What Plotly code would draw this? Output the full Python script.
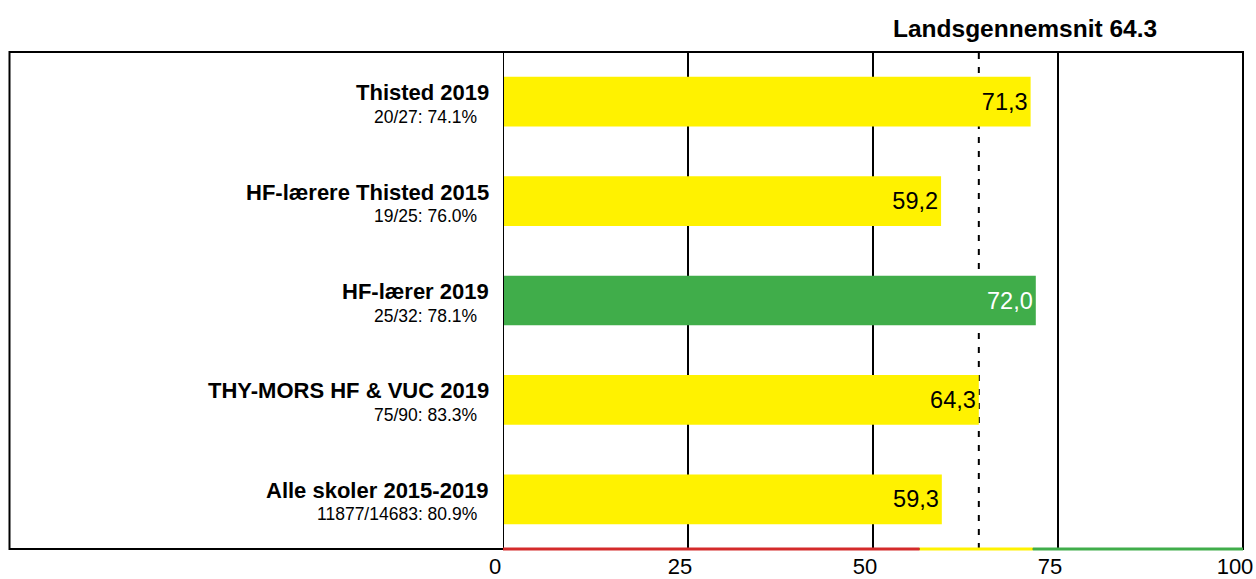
import plotly.graph_objects as go

# ---- data ----
categories = ["Thisted 2019", "HF-lærere Thisted 2015", "HF-lærer 2019",
              "THY-MORS HF & VUC 2019", "Alle skoler 2015-2019"]
subtitles = ["20/27: 74.1%", "19/25: 76.0%", "25/32: 78.1%",
             "75/90: 83.3%", "11877/14683: 80.9%"]
values = [71.3, 59.2, 72.0, 64.3, 59.3]
bar_colors = ["#fff200", "#fff200", "#40ad4a", "#fff200", "#fff200"]
text_colors = ["black", "black", "white", "black", "black"]
national_avg = 64.3
band_edges = [0, 56.3, 71.6, 100]
band_colors = ["#d42a2a", "#fff200", "#40ad4a"]
tick_vals = [0, 25, 50, 75, 100]

FONT = "Liberation Sans, Arial, sans-serif"

fig = go.Figure()
fig.add_trace(go.Bar(
    y=categories, x=values, orientation="h",
    marker=dict(color=bar_colors, line=dict(width=0)),
    width=0.5,
    text=[f"{v:.1f}".replace(".", ",") for v in values],
    textposition="inside", insidetextanchor="end",
    textfont=dict(family=FONT, size=23.5, color=text_colors),
    constraintext="none",
    hoverinfo="skip",
))

annotations = []
for cat, sub in zip(categories, subtitles):
    annotations.append(dict(x=0, xref="paper", y=cat, yref="y", text=f"<b>{cat}</b>",
                            xanchor="right", yanchor="middle", showarrow=False,
                            xshift=-12, yshift=9,
                            font=dict(family=FONT, size=22, color="black")))
    annotations.append(dict(x=0, xref="paper", y=cat, yref="y", text=sub,
                            xanchor="right", yanchor="middle", showarrow=False,
                            xshift=-24, yshift=-15,
                            font=dict(family=FONT, size=17.5, color="black")))
annotations.append(dict(x=0.705, xref="paper", y=1, yref="paper",
                        text=f"<b>Landsgennemsnit {national_avg}</b>",
                        xanchor="center", yanchor="middle", showarrow=False, yshift=24,
                        font=dict(family=FONT, size=24.5, color="black")))

shapes = []
# national average dashed line (behind bars)
shapes.append(dict(type="line", xref="x", yref="paper", x0=national_avg, x1=national_avg,
                   y0=0, y1=1, layer="below",
                   line=dict(color="black", width=2, dash="6px,8px")))
# outer frame
left_px = 9.5
plot_l, plot_w = 503, 740
shapes.append(dict(type="rect", xref="paper", yref="paper",
                   x0=(left_px - plot_l) / plot_w, x1=1, y0=0, y1=1, layer="above",
                   line=dict(color="black", width=2)))
# zero line
shapes.append(dict(type="line", xref="x", yref="paper", x0=0, x1=0, y0=0, y1=1,
                   layer="above", line=dict(color="black", width=2)))
# colour band at bottom
for i, c in enumerate(band_colors):
    shapes.append(dict(type="line", xref="x", yref="paper",
                       x0=band_edges[i], x1=band_edges[i + 1], y0=0, y1=0,
                       layer="above", line=dict(color=c, width=3)))

fig.update_layout(
    width=1256, height=579,
    margin=dict(l=503, r=13, t=52, b=30, autoexpand=False),
    paper_bgcolor="white", plot_bgcolor="white",
    showlegend=False,
    bargap=0.5,
    annotations=annotations,
    shapes=shapes,
    font=dict(family=FONT, color="black"),
    xaxis=dict(range=[0, 100], tickvals=tick_vals, ticktext=[str(t) for t in tick_vals],
               showgrid=True, gridcolor="black", gridwidth=2, zeroline=False,
               showline=False, ticks="", ticklabelshift=-8, ticklabelstandoff=2,
               automargin=False,
               tickfont=dict(family=FONT, size=22, color="black"), fixedrange=True),
    yaxis=dict(categoryorder="array", categoryarray=categories, autorange="reversed",
               showticklabels=False, showgrid=False, zeroline=False, showline=False,
               ticks="", fixedrange=True, automargin=False),
)

fig.write_html("out.html", config={"displayModeBar": False},
               post_script="document.body.style.margin='0';")
